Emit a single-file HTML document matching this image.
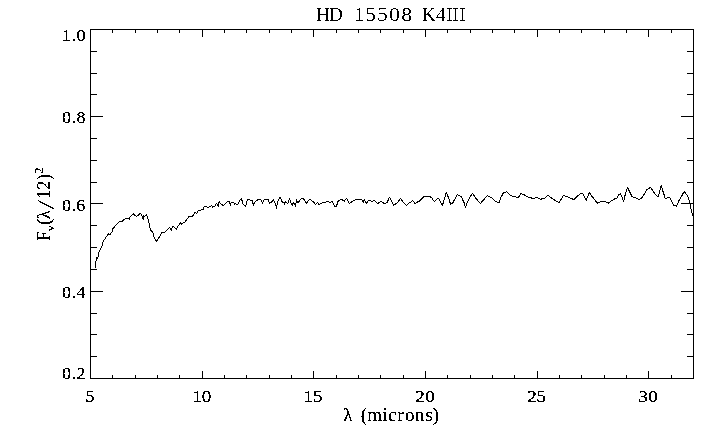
<!DOCTYPE html>
<html><head><meta charset="utf-8"><title>HD 15508 K4III</title>
<style>html,body{margin:0;padding:0;background:#fff;overflow:hidden;}svg{display:block;}svg{will-change:transform;}</style>
</head><body>
<svg width="720" height="439" viewBox="0 0 720 439">
<defs><filter id="bin" x="0" y="0" width="100%" height="100%" color-interpolation-filters="sRGB"><feComponentTransfer><feFuncA type="discrete" tableValues="0 0 0 1 1 1 1 1"/></feComponentTransfer></filter><filter id="bin2" x="0" y="0" width="100%" height="100%" color-interpolation-filters="sRGB"><feComponentTransfer><feFuncA type="discrete" tableValues="0 0 1 1"/></feComponentTransfer></filter></defs>
<rect width="720" height="439" fill="#fff"/>
<g fill="#000" shape-rendering="crispEdges">
<rect x="90" y="29" width="604" height="1"/>
<rect x="90" y="378" width="604" height="1"/>
<rect x="90" y="29" width="1" height="350"/>
<rect x="693" y="29" width="1" height="350"/>
<rect x="112" y="29" width="1" height="4"/>
<rect x="112" y="375" width="1" height="4"/>
<rect x="135" y="29" width="1" height="4"/>
<rect x="135" y="375" width="1" height="4"/>
<rect x="157" y="29" width="1" height="4"/>
<rect x="157" y="375" width="1" height="4"/>
<rect x="179" y="29" width="1" height="4"/>
<rect x="179" y="375" width="1" height="4"/>
<rect x="202" y="29" width="1" height="8"/>
<rect x="202" y="371" width="1" height="8"/>
<rect x="224" y="29" width="1" height="4"/>
<rect x="224" y="375" width="1" height="4"/>
<rect x="246" y="29" width="1" height="4"/>
<rect x="246" y="375" width="1" height="4"/>
<rect x="269" y="29" width="1" height="4"/>
<rect x="269" y="375" width="1" height="4"/>
<rect x="291" y="29" width="1" height="4"/>
<rect x="291" y="375" width="1" height="4"/>
<rect x="313" y="29" width="1" height="8"/>
<rect x="313" y="371" width="1" height="8"/>
<rect x="336" y="29" width="1" height="4"/>
<rect x="336" y="375" width="1" height="4"/>
<rect x="358" y="29" width="1" height="4"/>
<rect x="358" y="375" width="1" height="4"/>
<rect x="380" y="29" width="1" height="4"/>
<rect x="380" y="375" width="1" height="4"/>
<rect x="403" y="29" width="1" height="4"/>
<rect x="403" y="375" width="1" height="4"/>
<rect x="425" y="29" width="1" height="8"/>
<rect x="425" y="371" width="1" height="8"/>
<rect x="447" y="29" width="1" height="4"/>
<rect x="447" y="375" width="1" height="4"/>
<rect x="470" y="29" width="1" height="4"/>
<rect x="470" y="375" width="1" height="4"/>
<rect x="492" y="29" width="1" height="4"/>
<rect x="492" y="375" width="1" height="4"/>
<rect x="514" y="29" width="1" height="4"/>
<rect x="514" y="375" width="1" height="4"/>
<rect x="537" y="29" width="1" height="8"/>
<rect x="537" y="371" width="1" height="8"/>
<rect x="559" y="29" width="1" height="4"/>
<rect x="559" y="375" width="1" height="4"/>
<rect x="581" y="29" width="1" height="4"/>
<rect x="581" y="375" width="1" height="4"/>
<rect x="604" y="29" width="1" height="4"/>
<rect x="604" y="375" width="1" height="4"/>
<rect x="626" y="29" width="1" height="4"/>
<rect x="626" y="375" width="1" height="4"/>
<rect x="648" y="29" width="1" height="8"/>
<rect x="648" y="371" width="1" height="8"/>
<rect x="671" y="29" width="1" height="4"/>
<rect x="671" y="375" width="1" height="4"/>
<rect x="90" y="356" width="7" height="1"/>
<rect x="687" y="356" width="7" height="1"/>
<rect x="90" y="334" width="7" height="1"/>
<rect x="687" y="334" width="7" height="1"/>
<rect x="90" y="313" width="7" height="1"/>
<rect x="687" y="313" width="7" height="1"/>
<rect x="90" y="291" width="13" height="1"/>
<rect x="681" y="291" width="13" height="1"/>
<rect x="90" y="269" width="7" height="1"/>
<rect x="687" y="269" width="7" height="1"/>
<rect x="90" y="247" width="7" height="1"/>
<rect x="687" y="247" width="7" height="1"/>
<rect x="90" y="225" width="7" height="1"/>
<rect x="687" y="225" width="7" height="1"/>
<rect x="90" y="203" width="13" height="1"/>
<rect x="681" y="203" width="13" height="1"/>
<rect x="90" y="182" width="7" height="1"/>
<rect x="687" y="182" width="7" height="1"/>
<rect x="90" y="160" width="7" height="1"/>
<rect x="687" y="160" width="7" height="1"/>
<rect x="90" y="138" width="7" height="1"/>
<rect x="687" y="138" width="7" height="1"/>
<rect x="90" y="116" width="13" height="1"/>
<rect x="681" y="116" width="13" height="1"/>
<rect x="90" y="94" width="7" height="1"/>
<rect x="687" y="94" width="7" height="1"/>
<rect x="90" y="73" width="7" height="1"/>
<rect x="687" y="73" width="7" height="1"/>
<rect x="90" y="51" width="7" height="1"/>
<rect x="687" y="51" width="7" height="1"/>
</g>
<polyline points="95.50,267.60 95.50,262.25 96.20,260.60 96.60,257.50 97.40,258.10 98.25,256.50 98.50,252.40 99.50,251.20 100.70,249.10 101.50,246.70 102.50,244.60 102.60,242.30 104.10,240.00 105.40,238.30 106.30,236.50 107.50,235.30 108.40,233.60 109.00,234.50 109.90,234.10 110.40,235.00 110.70,233.60 111.90,232.10 112.50,230.60 112.50,228.50 113.40,228.20 114.30,227.30 114.60,226.10 115.80,225.30 116.70,224.40 117.90,223.50 118.40,222.60 119.60,221.40 122.30,221.10 123.50,219.90 125.30,218.70 128.90,218.30 129.30,219.60 129.40,217.40 130.60,216.30 131.70,215.50 133.30,213.60 134.40,214.90 135.30,215.50 136.70,216.30 138.10,215.50 139.20,214.10 139.70,213.60 140.80,213.80 141.70,215.20 142.50,216.90 143.30,219.40 143.60,215.80 144.70,216.60 145.80,215.50 146.70,214.40 147.20,216.30 147.80,218.30 148.60,219.70 148.90,222.70 149.40,223.60 149.40,227.50 150.20,228.50 150.40,230.40 152.30,231.40 153.30,233.30 153.30,236.40 154.40,237.70 155.40,239.75 156.25,241.40 157.30,240.00 158.30,238.50 159.60,236.80 160.60,234.75 161.50,232.90 162.10,232.50 164.60,232.50 165.40,231.40 166.50,230.40 167.70,229.30 168.50,228.90 169.40,227.50 170.40,228.50 171.50,230.40 171.70,228.50 172.50,226.80 173.30,226.20 174.40,227.40 175.60,228.30 176.60,229.40 177.20,226.90 178.30,225.80 179.40,224.90 180.30,222.40 181.40,224.10 182.20,223.60 183.30,222.40 184.70,222.20 187.20,218.80 189.20,216.30 192.50,216.30 193.30,215.20 194.20,213.60 195.30,212.20 196.40,213.60 197.20,212.40 198.10,210.50 200.60,210.30 201.40,209.40 203.30,209.40 204.20,206.60 206.40,206.30 207.80,207.70 209.20,206.60 210.80,206.20 211.40,205.20 212.20,206.60 212.50,207.70 213.30,206.60 215.00,206.30 215.60,204.40 216.40,203.30 217.20,204.40 218.30,206.60 219.20,201.30 220.00,202.70 220.60,203.60 221.70,204.70 223.70,205.50 224.80,204.40 226.20,202.70 227.60,201.30 229.20,201.30 229.80,202.40 230.30,205.50 230.90,203.30 231.70,202.20 233.40,202.20 234.20,203.30 234.50,204.40 235.10,203.30 236.20,204.40 237.60,204.40 238.70,202.70 239.50,200.80 240.30,199.70 241.40,198.30 241.70,199.90 242.60,201.90 242.80,203.60 243.90,204.70 245.60,206.30 246.20,204.70 246.40,202.40 247.60,199.40 249.20,199.40 250.60,200.20 252.30,200.50 252.80,202.40 253.40,205.50 253.90,203.60 255.30,201.90 256.70,200.50 258.70,199.40 260.50,199.20 261.30,200.60 262.40,203.30 263.30,200.80 264.40,199.20 268.00,199.20 268.80,200.80 269.40,203.30 270.20,202.20 272.20,201.90 273.30,199.40 274.10,201.10 274.90,203.10 275.80,204.70 276.30,208.30 277.20,203.90 277.40,202.20 278.60,200.00 279.10,198.30 279.90,197.50 280.80,198.10 281.60,200.60 282.40,202.20 283.60,202.50 284.40,204.20 284.90,202.80 285.50,201.40 286.30,202.50 287.40,203.30 288.30,202.80 288.80,200.80 289.40,198.30 290.20,200.60 291.30,203.30 292.40,205.30 293.30,202.50 294.10,203.60 294.90,204.70 295.50,206.40 296.10,202.80 296.40,199.40 297.10,201.90 298.40,202.50 299.30,201.10 300.10,199.70 301.80,198.30 303.20,198.90 304.60,200.30 305.40,201.70 306.50,203.60 307.30,201.90 308.40,200.30 309.80,199.20 310.70,199.40 312.30,201.10 313.40,201.70 314.60,203.10 315.40,204.70 317.30,202.50 319.30,204.70 320.10,203.60 321.80,203.10 322.90,202.50 325.40,202.50 326.80,201.40 328.40,201.40 330.10,202.50 331.80,201.40 332.50,201.90 333.30,203.80 334.40,206.10 336.40,206.10 337.20,204.10 337.50,202.20 338.60,200.50 340.60,199.90 341.90,199.40 343.30,200.50 344.40,201.60 345.30,199.70 346.40,198.30 347.20,199.40 348.30,201.90 349.40,203.60 350.60,202.40 352.20,201.60 354.20,200.50 356.10,199.40 361.70,199.40 362.20,200.50 363.30,202.70 363.60,201.30 364.20,199.70 365.30,201.10 366.40,203.30 367.10,202.40 368.50,200.40 370.40,200.40 371.80,201.60 374.10,200.40 375.70,201.80 377.70,203.50 379.10,202.70 380.70,201.30 382.40,202.10 383.80,203.50 385.40,203.50 387.40,202.40 388.20,199.90 389.30,197.40 390.40,198.80 391.80,201.30 392.70,203.20 393.50,205.20 394.90,204.30 396.30,203.50 398.20,202.10 399.30,199.90 400.40,198.20 401.60,200.20 404.20,203.20 406.40,205.40 409.20,202.70 410.60,202.40 412.30,200.40 413.90,202.10 415.30,203.80 416.70,202.40 419.20,201.30 420.90,199.60 422.60,197.90 424.20,196.30 429.20,196.30 431.40,197.40 432.60,199.30 434.50,201.60 435.90,199.90 437.60,198.20 438.70,198.50 439.50,199.80 442.40,205.40 443.60,201.80 444.70,197.70 446.30,192.40 447.70,195.70 449.70,201.30 450.50,204.30 452.40,203.50 454.70,199.30 457.40,194.30 458.80,195.40 461.30,196.60 462.40,199.30 464.10,202.70 465.40,207.40 466.90,203.20 469.70,197.90 472.40,193.20 474.70,196.30 475.40,197.90 480.40,203.40 484.30,199.30 485.40,197.60 487.30,195.40 488.70,196.50 491.20,197.30 493.20,199.30 495.40,201.50 497.30,202.30 499.30,202.10 500.10,200.10 500.70,197.90 501.80,195.90 502.90,193.70 504.30,192.30 505.90,192.10 506.50,191.20 508.20,193.40 510.40,195.40 511.70,195.40 512.50,196.50 515.60,196.50 516.40,197.30 518.60,197.30 519.40,195.70 520.30,194.30 521.40,193.20 522.50,194.30 523.90,194.60 525.00,195.40 526.70,196.50 528.30,197.30 530.60,197.30 531.70,198.40 534.40,198.40 535.60,197.30 537.20,197.30 538.90,198.40 540.80,199.60 542.20,198.40 544.40,198.40 545.60,197.10 546.70,196.20 548.30,195.40 550.40,197.30 553.50,199.30 556.60,201.50 559.10,202.60 560.40,200.70 561.60,198.40 562.70,196.50 563.80,195.40 565.20,196.20 567.40,196.50 568.80,197.30 571.00,198.40 574.10,199.60 575.70,197.90 577.70,195.90 579.60,194.30 581.80,193.20 583.20,194.30 584.50,197.30 586.40,200.40 587.30,197.30 588.40,194.80 589.50,192.30 590.30,193.70 592.30,196.80 593.90,198.70 595.60,200.90 597.60,203.20 599.20,202.30 600.60,201.50 605.30,201.50 606.40,202.30 608.40,203.20 610.30,201.50 612.00,200.70 613.70,199.30 616.20,198.40 617.60,197.30 618.00,196.20 619.10,194.50 620.50,193.40 621.30,195.30 622.40,198.10 623.60,201.40 624.40,198.70 624.90,195.90 625.80,193.10 626.60,189.80 627.40,187.60 628.60,189.50 629.70,192.00 630.80,194.20 631.90,196.20 633.80,197.30 635.50,197.60 637.20,198.40 638.80,199.50 641.00,198.40 642.40,197.30 643.60,195.30 644.70,193.40 645.50,191.40 646.90,189.80 648.60,188.40 650.50,187.60 651.60,188.90 653.30,191.70 656.20,195.30 658.20,197.00 659.00,194.50 659.60,191.40 660.40,188.10 661.20,185.60 662.10,188.10 662.90,191.20 664.00,194.50 664.80,197.30 665.30,199.00 666.00,198.50 668.50,197.50 669.80,197.50 670.50,198.80 671.50,201.00 672.50,203.00 673.50,205.00 675.00,205.50 676.50,206.40 677.50,204.00 678.50,201.50 680.00,199.00 681.20,197.00 682.90,193.70 684.30,191.40 685.90,193.70 687.60,195.90 688.70,198.70 689.60,201.50 690.10,204.50 690.60,208.00 691.60,210.50 692.10,213.00 692.80,215.00 693.20,216.30" fill="none" stroke="#000" stroke-width="1" shape-rendering="crispEdges" stroke-linejoin="round"/>
<g font-family="'Liberation Serif', serif" fill="#000" filter="url(#bin)">
<g filter="url(#bin2)">
<text x="315.76 328.87" y="21" font-size="19.5">HD</text>
<text transform="matrix(1.12 0 0 1 -45.93 0)" x="356.85 367.11 377.38 388.28 399.26" y="21" font-size="19.5">15508</text>
<text x="421.78 435.99 446.14 452.24 459.24" y="21" font-size="19.5">K4III</text>
</g>
<g filter="url(#bin2)">
<text transform="matrix(1.1 0 0 1 -7.38 0)" x="62.81 71.92 76.22" y="41" font-size="16.5" stroke="#000" stroke-width="0.22">1.0</text>
<text transform="matrix(1.1 0 0 1 -7.38 0)" x="63.04 71.92 76.22" y="123" font-size="16.5" stroke="#000" stroke-width="0.22">0.8</text>
<text transform="matrix(1.1 0 0 1 -7.38 0)" x="63.04 71.92 76.12" y="211" font-size="16.5" stroke="#000" stroke-width="0.22">0.6</text>
<text transform="matrix(1.1 0 0 1 -7.38 0)" x="63.04 71.92 76.19" y="298.5" font-size="16.5" stroke="#000" stroke-width="0.22">0.4</text>
<text transform="matrix(1.1 0 0 1 -7.38 0)" x="63.04 71.92 76.31" y="379" font-size="16.5" stroke="#000" stroke-width="0.22">0.2</text>
<text transform="matrix(1.15 0 0 1 -13.53 0)" x="85.92" y="402" font-size="16.5" stroke="#000" stroke-width="0.22">5</text>
<text transform="matrix(1.15 0 0 1 -30.28 0)" x="193.63 201.69" y="402" font-size="16.5" stroke="#000" stroke-width="0.22">10</text>
<text transform="matrix(1.15 0 0 1 -46.98 0)" x="304.67 313.09" y="402" font-size="16.5" stroke="#000" stroke-width="0.22">15</text>
<text transform="matrix(1.15 0 0 1 -63.74 0)" x="416.52 425.22" y="402" font-size="16.5" stroke="#000" stroke-width="0.22">20</text>
<text transform="matrix(1.15 0 0 1 -80.50 0)" x="528.49 536.59" y="402" font-size="16.5" stroke="#000" stroke-width="0.22">25</text>
<text transform="matrix(1.15 0 0 1 -97.22 0)" x="639.73 648.24" y="402" font-size="16.5" stroke="#000" stroke-width="0.22">30</text>
</g>
<text x="343.20 355.50 360.82 367.31 382.34 387.92 397.33 404.95 414.97 425.56 432.75" y="421" font-size="19">λ (microns)</text>
<g transform="rotate(-90)"><text y="50" font-size="18"><tspan x="-241.04">F</tspan><tspan x="-230.67" dy="3.5" font-size="11">ν</tspan><tspan x="-224.80 -219.14" dy="-3.5">(λ</tspan><tspan x="-208.94" dy="3.3" font-size="24" rotate="8">/</tspan><tspan x="-199.05 -189.70 -180.09" dy="-3.3">12)</tspan><tspan x="-173.43" dy="-7.5" font-size="12">2</tspan></text></g>
</g>
</svg>
</body></html>
